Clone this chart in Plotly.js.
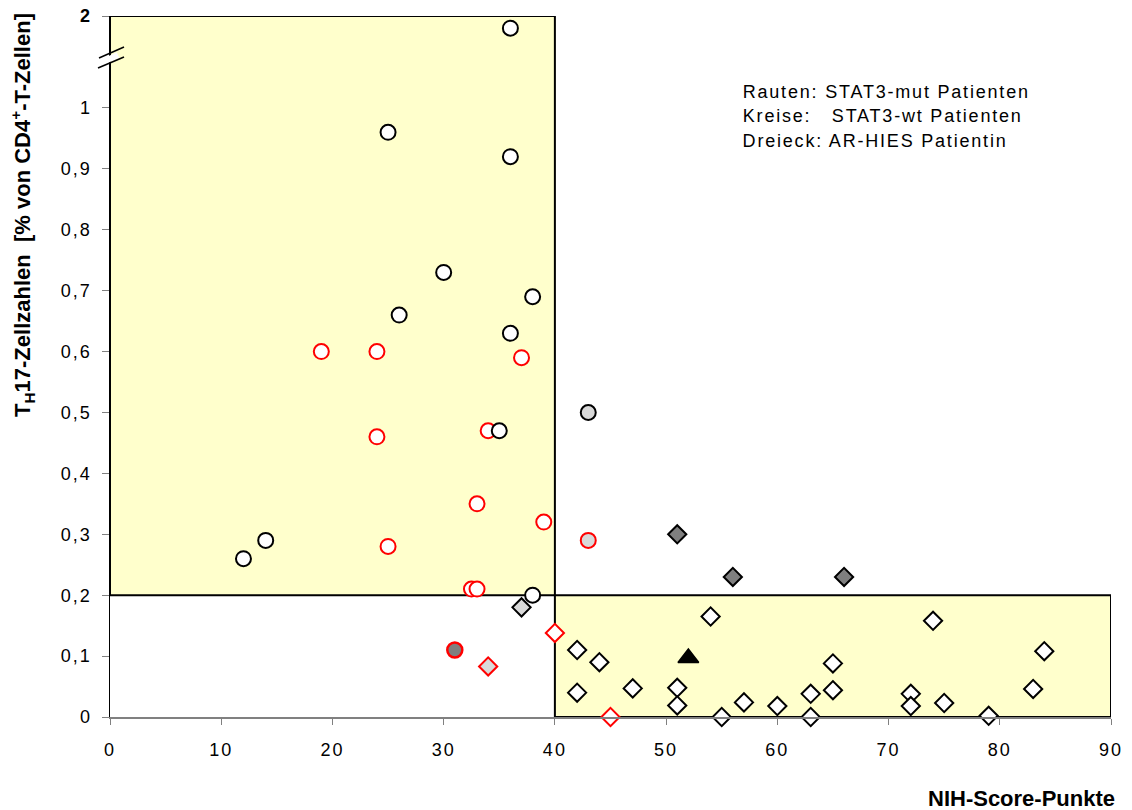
<!DOCTYPE html>
<html>
<head>
<meta charset="utf-8">
<script src="https://cdn.plot.ly/plotly-3.0.1.min.js"></script>
<style>
  html, body { margin: 0; padding: 0; background: #fff; }
  #chart { width: 1132px; height: 810px; }
  .xtick text, .ytick text { letter-spacing: 2px; }
  g.annotation[data-index="0"] text,
  g.annotation[data-index="1"] text,
  g.annotation[data-index="2"] text { letter-spacing: 1.8px; }
</style>
</head>
<body>
<div id="chart"></div>
<script>
// ---- data (y values as drawn on the broken axis; the top point sits just below the "2" mark) ----
const xTickVals = [0, 10, 20, 30, 40, 50, 60, 70, 80, 90];
const xTickText = ["0", "10", "20", "30", "40", "50", "60", "70", "80", "90"];
const yTickVals = [0, 0.1, 0.2, 0.3, 0.4, 0.5, 0.6, 0.7, 0.8, 0.9, 1.0, 1.151];
const yTickText = ["0", "0,1", "0,2", "0,3", "0,4", "0,5", "0,6", "0,7", "0,8", "0,9", "1", "<b>2</b>"];

// STAT3-mut patients (diamonds)
const mutWhiteBlackX = [42, 44, 42, 47, 51, 51, 54, 55, 57, 60, 63, 63, 65, 65, 72, 72, 74, 75, 79, 83, 84];
const mutWhiteBlackY = [0.11, 0.09, 0.04, 0.047, 0.048, 0.019, 0.165, 0.0, 0.024, 0.018, 0.038, 0.0, 0.088, 0.044, 0.038, 0.018, 0.158, 0.023, 0.002, 0.046, 0.108];
const mutDarkBlackX = [51, 56, 66];
const mutDarkBlackY = [0.30, 0.23, 0.23];
const mutLightBlackX = [37];
const mutLightBlackY = [0.18];
const mutLightRedX = [34];
const mutLightRedY = [0.083];
const mutWhiteRedX = [40, 45];
const mutWhiteRedY = [0.138, 0.0];

// STAT3-wt patients (circles)
const wtWhiteRedX = [19, 24, 37, 34, 24, 39, 33, 25, 32.5, 33];
const wtWhiteRedY = [0.60, 0.60, 0.59, 0.47, 0.46, 0.32, 0.35, 0.28, 0.21, 0.21];
const wtWhiteBlackX = [36, 25, 36, 30, 38, 26, 36, 35, 14, 12, 38];
const wtWhiteBlackY = [1.131, 0.96, 0.92, 0.73, 0.69, 0.66, 0.63, 0.47, 0.29, 0.26, 0.20];
const wtLightBlackX = [43];
const wtLightBlackY = [0.50];
const wtLightRedX = [43];
const wtLightRedY = [0.29];
const wtDarkRedX = [31];
const wtDarkRedY = [0.11];

// AR-HIES patient (triangle)
const arX = [52];
const arY = [0.097];

const legendLines = [
  "Rauten: STAT3-mut Patienten",
  "Kreise:\u00a0\u00a0\u00a0STAT3-wt Patienten",
  "Dreieck: AR-HIES Patientin"
];
const yTitle = "T<sub>H</sub>17-Zellzahlen\u00a0\u00a0[% von CD4<sup>+</sup>-T-Zellen]";
const xTitle = "NIH-Score-Punkte";

// ---- styling ----
const RED = "#FF0000", WHITE = "#FFFFFF", LIGHT = "#D9D9D9", DARK = "#7F7F7F", BLACK = "#000000";
function tr(x, y, symbol, size, fill, lineColor, lineWidth) {
  return {
    type: "scatter", mode: "markers", x: x, y: y, cliponaxis: false, hoverinfo: "skip",
    marker: { symbol: symbol, size: size, color: fill, line: { color: lineColor, width: lineWidth } }
  };
}
const DS = 14, CS = 15;
const data = [
  tr(mutWhiteBlackX, mutWhiteBlackY, "diamond", DS, WHITE, BLACK, 2),
  tr(mutDarkBlackX, mutDarkBlackY, "diamond", DS, DARK, BLACK, 2),
  tr(mutLightBlackX, mutLightBlackY, "diamond", DS, LIGHT, BLACK, 2),
  tr(mutLightRedX, mutLightRedY, "diamond", DS, LIGHT, RED, 2),
  tr(mutWhiteRedX, mutWhiteRedY, "diamond", DS, WHITE, RED, 2),
  tr(arX, arY, "triangle-up", 18, BLACK, BLACK, 1.5),
  tr(wtWhiteRedX, wtWhiteRedY, "circle", CS, WHITE, RED, 2),
  tr(wtLightRedX, wtLightRedY, "circle", CS, LIGHT, RED, 2),
  tr(wtDarkRedX, wtDarkRedY, "circle", CS, DARK, RED, 2.5),
  tr(wtWhiteBlackX, wtWhiteBlackY, "circle", CS, WHITE, BLACK, 2),
  tr(wtLightBlackX, wtLightBlackY, "circle", CS, LIGHT, BLACK, 2)
];

// pixel helpers for decorations (plot area: x 110..1111, y 16..717)
const PL = 110, PW = 1001, PT = 16, PH = 701;
const px = v => (v - PL) / PW;
const py = v => (PT + PH - v) / PH;
const LS = 1.8; // legend letter spacing (css), shifts centred text left by half its extra width
const legX = s => px(741 + s.length * LS / 2);

const FONT = "Liberation Sans, Arial, sans-serif";
const layout = {
  width: 1132, height: 810,
  margin: { l: PL, r: 1132 - PL - PW, t: PT, b: 810 - PT - PH, pad: 0 },
  paper_bgcolor: "#FFFFFF", plot_bgcolor: "#FFFFFF",
  showlegend: false,
  font: { family: FONT, color: BLACK },
  xaxis: {
    range: [0, 90], tickmode: "array", tickvals: xTickVals, ticktext: xTickText,
    ticks: "outside", ticklen: 6, tickwidth: 1, tickcolor: "#808080",
    showline: true, linecolor: "#808080", linewidth: 1.5,
    showgrid: false, zeroline: false, fixedrange: true,
    tickfont: { family: FONT, size: 18, color: BLACK }, ticklabelstandoff: 10
  },
  yaxis: {
    range: [0, 1.151], tickmode: "array", tickvals: yTickVals, ticktext: yTickText,
    ticks: "outside", ticklen: 7, tickwidth: 1, tickcolor: "#808080",
    showline: true, linecolor: BLACK, linewidth: 1.5,
    showgrid: false, zeroline: false, fixedrange: true,
    tickfont: { family: FONT, size: 18, color: BLACK }, ticklabelstandoff: 6
  },
  shapes: [
    { type: "rect", layer: "below", xref: "x", yref: "y", x0: 0, x1: 40, y0: 0.2, y1: 1.151,
      fillcolor: "#FFFFCC", line: { color: BLACK, width: 2 } },
    { type: "rect", layer: "below", xref: "x", yref: "y", x0: 40, x1: 90, y0: 0, y1: 0.2,
      fillcolor: "#FFFFCC", line: { color: BLACK, width: 2 } },
    // axis break marks
    { type: "line", xref: "paper", yref: "paper", x0: px(103), y0: py(62), x1: px(118), y1: py(55),
      line: { color: WHITE, width: 6 } },
    { type: "line", xref: "paper", yref: "paper", x0: px(99), y0: py(58), x1: px(124), y1: py(47),
      line: { color: BLACK, width: 1.5 } },
    { type: "line", xref: "paper", yref: "paper", x0: px(98), y0: py(68), x1: px(124), y1: py(57),
      line: { color: BLACK, width: 1.5 } }
  ],
  annotations: [
    { text: legendLines[0], xref: "paper", yref: "paper", x: legX(legendLines[0]), y: py(92), xanchor: "left", yanchor: "middle",
      showarrow: false, font: { family: FONT, size: 18, color: BLACK } },
    { text: legendLines[1], xref: "paper", yref: "paper", x: legX(legendLines[1]), y: py(116), xanchor: "left", yanchor: "middle",
      showarrow: false, font: { family: FONT, size: 18, color: BLACK } },
    { text: legendLines[2], xref: "paper", yref: "paper", x: legX(legendLines[2]), y: py(141), xanchor: "left", yanchor: "middle",
      showarrow: false, font: { family: FONT, size: 18, color: BLACK } },
    { text: "<b>" + yTitle + "</b>", xref: "paper", yref: "paper", x: px(22), y: py(215), xanchor: "center", yanchor: "middle",
      textangle: -90, showarrow: false, font: { family: FONT, size: 22, color: BLACK } },
    { text: "<b>" + xTitle + "</b>", xref: "paper", yref: "paper", x: px(1021), y: py(799), xanchor: "center", yanchor: "middle",
      showarrow: false, font: { family: FONT, size: 22, color: BLACK } }
  ]
};

Plotly.newPlot("chart", data, layout, { displayModeBar: false, staticPlot: true });
</script>
</body>
</html>
